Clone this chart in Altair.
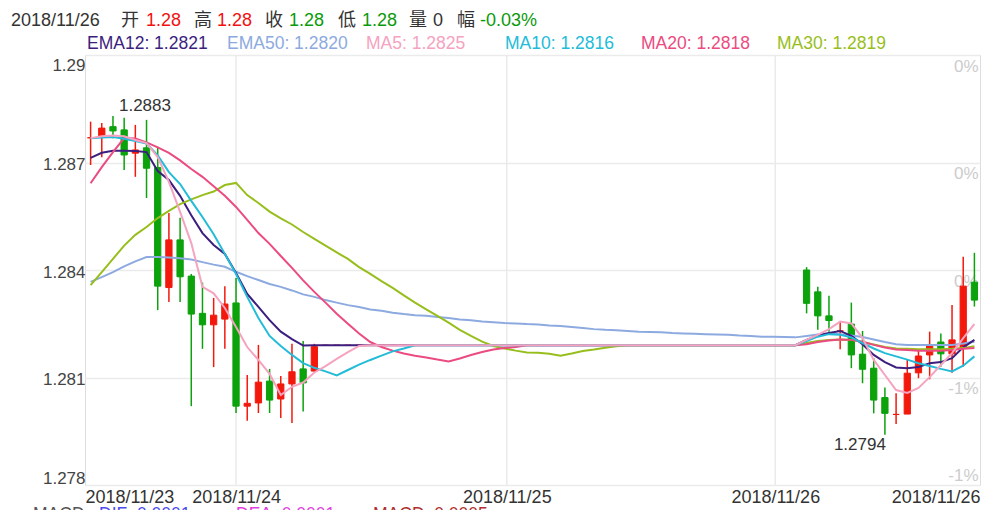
import altair as alt
import pandas as pd

# ---------------- data ----------------
FLAT = 1.2819  # price during the no-trade stretch

opens = [1.28769, 1.28771, 1.28800, 1.28791, 1.28726, 1.28741, 1.28686, 1.28351, 1.28484, 1.28383,
         1.28279, 1.28247, 1.28263, 1.28308, 1.28020, 1.28029, 1.28090, 1.28040, 1.28082, 1.28124,
         1.28118] + [FLAT] * 43 + [
         1.28400, 1.28339, 1.28272, 1.28230, 1.28249, 1.28165, 1.28126, 1.28044, 1.27997, 1.27998,
         1.28113, 1.28163, 1.28199, 1.28166, 1.28182, 1.28366]
closes = [1.28769, 1.28796, 1.28788, 1.28721, 1.28735, 1.28684, 1.28355, 1.28484, 1.28381, 1.28277,
          1.28247, 1.28274, 1.28305, 1.28020, 1.28028, 1.28087, 1.28037, 1.28082, 1.28116, 1.28085,
          1.28186] + [FLAT] * 43 + [
          1.28307, 1.28272, 1.28259, 1.28230, 1.28163, 1.28123, 1.28037, 1.28000, 1.27997, 1.28112,
          1.28160, 1.28191, 1.28166, 1.28205, 1.28355, 1.28316]
highs = [1.28814, 1.28810, 1.28830, 1.28825, 1.28805, 1.28819, 1.28744, 1.28559, 1.28546, 1.28389,
         1.28365, 1.28322, 1.28355, 1.28378, 1.28107, 1.28191, 1.28124, 1.28104, 1.28194, 1.28202,
         1.28194] + [FLAT] * 43 + [
         1.28408, 1.28353, 1.28328, 1.28256, 1.28309, 1.28230, 1.28154, 1.28072, 1.28056, 1.28149,
         1.28177, 1.28228, 1.28223, 1.28302, 1.28437, 1.28448]
lows = [1.28693, 1.28715, 1.28768, 1.28679, 1.28660, 1.28601, 1.28288, 1.28311, 1.28311, 1.28020,
        1.28180, 1.28129, 1.28180, 1.28001, 1.27979, 1.28001, 1.28001, 1.27987, 1.27973, 1.28005,
        1.28116] + [FLAT] * 43 + [
        1.28279, 1.28233, 1.28228, 1.28179, 1.28126, 1.28084, 1.28000, 1.27940, 1.27970, 1.27998,
        1.28098, 1.28095, 1.28130, 1.28113, 1.28130, 1.28298]

ema12 = [1.28713, 1.28727, 1.28733, 1.28733, 1.28732, 1.28729, 1.28676, 1.28651, 1.28607, 1.28553,
         1.28503, 1.28470, 1.28445, 1.28392, 1.28333, 1.28297, 1.28260, 1.28228, 1.28207, 1.28189] + [FLAT] * 44 + [
         1.28205, 1.28217, 1.28224, 1.28230, 1.28216, 1.28193, 1.28163, 1.28143, 1.28128, 1.28126,
         1.28129, 1.28140, 1.28143, 1.28154, 1.28184, 1.28205]
ema50 = [1.28367, 1.28380, 1.28394, 1.28410, 1.28424, 1.28436, 1.28436, 1.28435, 1.28433, 1.28429,
         1.28422, 1.28415, 1.28409, 1.28395, 1.28383, 1.28372, 1.28361, 1.28353, 1.28343, 1.28332,
         1.28325, 1.28316, 1.28309, 1.28302, 1.28297, 1.28290, 1.28286, 1.28281, 1.28277, 1.28274,
         1.28272, 1.28269, 1.28266, 1.28262, 1.28260, 1.28256, 1.28254, 1.28252, 1.28251, 1.28249,
         1.28248, 1.28245, 1.28244, 1.28241, 1.28238, 1.28235, 1.28233, 1.28232, 1.28230, 1.28228,
         1.28227, 1.28226, 1.28224, 1.28223, 1.28222, 1.28221, 1.28220, 1.28219, 1.28217, 1.28216,
         1.28214, 1.28214, 1.28213, 1.28212, 1.28216, 1.28220, 1.28223, 1.28221, 1.28217, 1.28213,
         1.28206, 1.28199, 1.28193, 1.28191, 1.28191, 1.28191, 1.28191, 1.28191, 1.28195, 1.28200]
ma5 = [1.28768, 1.28773, 1.28775, 1.28773, 1.28763, 1.28754, 1.28715, 1.28646, 1.28562, 1.28475,
       1.28353, 1.28335, 1.28294, 1.28241, 1.28185, 1.28149, 1.28110, 1.28051, 1.28074, 1.28086,
       1.28114, 1.28132, 1.28152, 1.28171, 1.28188] + [FLAT] * 39 + [
       1.28205, 1.28219, 1.28235, 1.28256, 1.28251, 1.28210, 1.28149, 1.28107, 1.28065, 1.28057,
       1.28071, 1.28101, 1.28135, 1.28168, 1.28210, 1.28249]
ma10 = [1.28768, 1.28770, 1.28771, 1.28766, 1.28760, 1.28753, 1.28720, 1.28673, 1.28640, 1.28593,
        1.28548, 1.28500, 1.28445, 1.28389, 1.28325, 1.28266, 1.28216, 1.28188, 1.28163, 1.28140,
        1.28127, 1.28117, 1.28106, 1.28121, 1.28136, 1.28149, 1.28161, 1.28173, 1.28181] + [FLAT] * 35 + [
        1.28202, 1.28214, 1.28221, 1.28219, 1.28212, 1.28196, 1.28181, 1.28168, 1.28159, 1.28150,
        1.28140, 1.28132, 1.28124, 1.28117, 1.28133, 1.28159]
ma20 = [1.28642, 1.28687, 1.28729, 1.28768, 1.28767, 1.28756, 1.28742, 1.28727, 1.28706, 1.28682,
        1.28660, 1.28634, 1.28607, 1.28576, 1.28540, 1.28503, 1.28473, 1.28439, 1.28406, 1.28371,
        1.28339, 1.28309, 1.28278, 1.28250, 1.28223, 1.28199, 1.28185, 1.28175, 1.28167, 1.28161,
        1.28156, 1.28150, 1.28145, 1.28153, 1.28163, 1.28171, 1.28178, 1.28182, 1.28185] + [FLAT] * 25 + [
        1.28193, 1.28199, 1.28203, 1.28206, 1.28205, 1.28200, 1.28191, 1.28184, 1.28178, 1.28177,
        1.28175, 1.28175, 1.28175, 1.28177, 1.28180, 1.28182]
ma30 = [1.28358, 1.28394, 1.28431, 1.28468, 1.28498, 1.28520, 1.28545, 1.28565, 1.28584, 1.28597,
        1.28609, 1.28619, 1.28637, 1.28643, 1.28609, 1.28587, 1.28563, 1.28544, 1.28527, 1.28506,
        1.28487, 1.28468, 1.28449, 1.28431, 1.28408, 1.28389, 1.28369, 1.28350, 1.28329, 1.28309,
        1.28290, 1.28272, 1.28253, 1.28233, 1.28216, 1.28200, 1.28188, 1.28181, 1.28175, 1.28170,
        1.28169, 1.28166, 1.28161, 1.28167, 1.28174, 1.28178, 1.28183, 1.28187] + [FLAT] * 16 + [
        1.28196, 1.28202, 1.28205, 1.28206, 1.28205, 1.28199, 1.28192, 1.28185, 1.28181, 1.28180,
        1.28179, 1.28179, 1.28179, 1.28180, 1.28182, 1.28187]

series_names = ["EMA12", "EMA50", "MA5", "MA10", "MA20", "MA30"]
series_values = [ema12, ema50, ma5, ma10, ma20, ma30]
series_last = ["1.2821", "1.2820", "1.2825", "1.2816", "1.2818", "1.2819"]
series_colors = ["#3C1E7E", "#8DAAE0", "#F5A3C0", "#22BCD9", "#EB4B80", "#97BE1C"]
draw_order = ["EMA50", "EMA12", "MA30", "MA20", "MA10", "MA5"]

price_ticks = [1.278, 1.281, 1.284, 1.287, 1.29]
pct_labels = ["-1%", "-1%", "0%", "0%", "0%"]
date_ticks = [-0.5, 13, 37.2, 61.2, 79.5]
date_labels = ["2018/11/23", "2018/11/24", "2018/11/25", "2018/11/26", "2018/11/26"]
day_bounds = [13, 37.2, 61.2]

header_texts = ["2018/11/26", "开", "1.28", "高", "1.28", "收", "1.28", "低", "1.28", "量", "0", "幅", "-0.03%"]
header_kinds = ["n", "n", "up", "n", "up", "n", "dn", "n", "dn", "n", "n", "n", "dn"]
macd_texts = ["MACD", "DIF: 0.0001", "DEA: 0.0001", "MACD: 0.0005"]
macd_colors = ["#555555", "#4A4AF0", "#E040E0", "#B03030"]

# ---------------- layout / style ----------------
RED, GREEN = "#F2190C", "#0BA20B"
FONT = "Liberation Sans, Arial, Noto Sans CJK SC, sans-serif"
W, H = 895, 430
LEFT_PAGE, TOP_PAGE = 85, 55
header_x = [11, 121, 146, 194, 217, 265, 289, 338, 362, 409, 433, 457, 480]
legend_x = [87, 227, 366, 505, 641, 777]
macd_x = [33, 99, 236, 373]

n = len(opens)
df = pd.DataFrame({"i": list(range(n)), "open": opens, "close": closes, "high": highs, "low": lows})
df["dir"] = ["up" if c >= o else "down" for o, c in zip(opens, closes)]
df["x0"] = df["i"] - 0.28
df["x1"] = df["i"] + 0.28

xs = alt.Scale(domain=[-0.5, n - 0.5], nice=False, zero=False)
ys = alt.Scale(domain=[price_ticks[0], price_ticks[-1]], nice=False, zero=False)
cscale = alt.Scale(domain=["up", "down"], range=[RED, GREEN])


def label_map(vals, labels):
    e = "'" + labels[-1] + "'"
    for v, l in reversed(list(zip(vals[:-1], labels[:-1]))):
        e = f"(abs(datum.value - ({v})) < 1e-6) ? '{l}' : {e}"
    return e


bottom_test = f"datum.value <= {price_ticks[0] + 1e-6}"

vgrid = alt.Chart(pd.DataFrame({"b": day_bounds})).mark_rule(
    color="#EAEAEA", strokeWidth=1.5
).encode(x=alt.X("b:Q", scale=xs, axis=None))

wicks = alt.Chart(df).mark_rule(strokeWidth=1.5).encode(
    x=alt.X("i:Q", scale=xs, axis=alt.Axis(
        values=date_ticks, labelExpr=label_map(date_ticks, date_labels), labelFlush=True,
        grid=False, domain=False, ticks=False, labelFontSize=18, labelColor="#333333",
        labelFont=FONT, labelPadding=3, title=None)),
    y=alt.Y("low:Q", scale=ys, axis=alt.Axis(
        values=price_ticks, format=".3~f", labelFlush=True, grid=True, gridColor="#EBEBEB",
        gridWidth=1.5, domain=False, ticks=False, labelFontSize=17, labelColor="#444444",
        labelFont=FONT, labelPadding=0, labelOffset=2, title=None)),
    y2="high:Q",
    color=alt.Color("dir:N", scale=cscale, legend=None),
)

bodies = alt.Chart(df).mark_rect(strokeWidth=1).encode(
    x=alt.X("x0:Q", scale=xs, axis=None),
    x2="x1:Q",
    y=alt.Y("open:Q", scale=ys, axis=None),
    y2="close:Q",
    color=alt.Color("dir:N", scale=cscale, legend=None),
    stroke=alt.Stroke("dir:N", scale=cscale, legend=None),
)

right_axis = alt.Chart(df).mark_point(opacity=0).encode(
    x=alt.X("i:Q", scale=xs, axis=None),
    y=alt.Y("close:Q", scale=ys, axis=alt.Axis(
        orient="right", values=price_ticks, labelExpr=label_map(price_ticks, pct_labels),
        labelBaseline={"condition": {"test": bottom_test, "value": "alphabetic"}, "value": "top"},
        labelOffset={"condition": {"test": bottom_test, "value": -5}, "value": 3},
        labelAlign="right", labelPadding=-2,
        grid=False, domain=False, ticks=False, labelFontSize=17, labelColor="#CCCCCC",
        labelFont=FONT, title=None)),
)

line_layers = []
for name in draw_order:
    k = series_names.index(name)
    ldf = pd.DataFrame({"i": list(range(n)), "v": series_values[k]})
    line_layers.append(
        alt.Chart(ldf).mark_line(color=series_colors[k], strokeWidth=2).encode(
            x=alt.X("i:Q", scale=xs, axis=None),
            y=alt.Y("v:Q", scale=ys, axis=None),
        )
    )

imax = max(range(n), key=lambda k: highs[k])
imin = min(range(n), key=lambda k: lows[k])
max_lbl = alt.Chart(pd.DataFrame({"i": [imax], "v": [highs[imax]], "t": [f"{highs[imax]:.4f}"]})).mark_text(
    align="left", baseline="alphabetic", dx=6, dy=-5, fontSize=17, font=FONT, color="#333333"
).encode(x=alt.X("i:Q", scale=xs, axis=None), y=alt.Y("v:Q", scale=ys, axis=None), text="t:N")
min_lbl = alt.Chart(pd.DataFrame({"i": [imin], "v": [lows[imin]], "t": [f"{lows[imin]:.4f}"]})).mark_text(
    align="right", baseline="top", dx=1, dy=2, fontSize=17, font=FONT, color="#333333"
).encode(x=alt.X("i:Q", scale=xs, axis=None), y=alt.Y("v:Q", scale=ys, axis=None), text="t:N")

kind_color = {"n": "#333333", "up": "#F21010", "dn": "#0A9A0A"}
hdf = pd.DataFrame({
    "t": header_texts,
    "px": [x - LEFT_PAGE for x in header_x],
    "c": [kind_color[k] for k in header_kinds],
})
header = alt.Chart(hdf).mark_text(align="left", baseline="middle", fontSize=18, font=FONT).encode(
    x=alt.X("px:Q", scale=None), y=alt.value(21 - TOP_PAGE), text="t:N", color=alt.Color("c:N", scale=None)
)

ldf2 = pd.DataFrame({
    "t": [f"{nm}: {lv}" for nm, lv in zip(series_names, series_last)],
    "px": [x - LEFT_PAGE for x in legend_x],
    "c": series_colors,
})
legend = alt.Chart(ldf2).mark_text(align="left", baseline="middle", fontSize=17.5, font=FONT).encode(
    x=alt.X("px:Q", scale=None), y=alt.value(44 - TOP_PAGE), text="t:N", color=alt.Color("c:N", scale=None)
)

mdf = pd.DataFrame({"t": macd_texts, "px": [x - LEFT_PAGE for x in macd_x], "c": macd_colors})
macd = alt.Chart(mdf).mark_text(align="left", baseline="alphabetic", fontSize=17.5, font=FONT).encode(
    x=alt.X("px:Q", scale=None), y=alt.value(520 - TOP_PAGE), text="t:N", color=alt.Color("c:N", scale=None)
)

chart = alt.layer(
    vgrid, wicks, bodies, *line_layers, right_axis, max_lbl, min_lbl, header, legend, macd
).resolve_axis(y="independent", x="independent").resolve_scale(color="independent", stroke="independent").properties(
    width=W, height=H,
    autosize=alt.AutoSizeParams(type="none"),
    padding={"left": LEFT_PAGE - 8, "top": TOP_PAGE - 8, "right": 8, "bottom": 33},
).configure_view(stroke=None).configure(background="white")

chart.save("out.html", embed_options={"renderer": "svg", "actions": False})
